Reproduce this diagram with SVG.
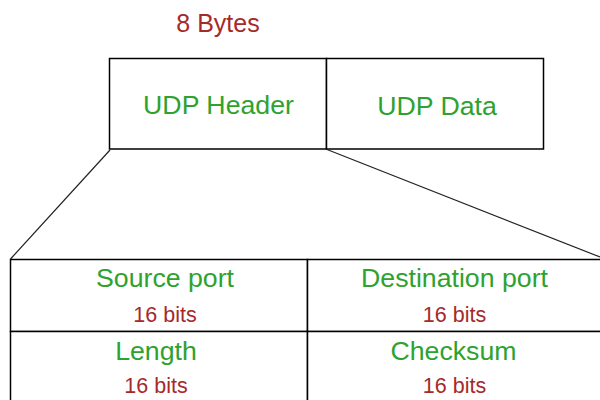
<svg xmlns="http://www.w3.org/2000/svg" width="600" height="400" viewBox="0 0 600 400">
<style>
.box{fill:#fff;stroke:#000;stroke-width:1.5}
.g{fill:#2ea22e;font-family:"Liberation Sans",Arial,sans-serif;font-size:26.7px;text-anchor:middle}
.r{fill:#a52a2a;font-family:"Liberation Sans",Arial,sans-serif;font-size:21.5px;text-anchor:middle}
.conn{stroke:#222;stroke-width:1.2;fill:none}
</style>
<rect width="600" height="400" fill="#fff"/>
<text id="size-label" class="r" x="218" y="32" style="font-size:25px">8 Bytes</text>
<g id="udp-header">
<rect class="box" x="109.5" y="58.5" width="217" height="90.5"/>
<text class="g" x="218.5" y="114">UDP Header</text>
</g>
<g id="udp-data">
<rect class="box" x="326.5" y="58.5" width="217" height="90.5"/>
<text class="g" x="437" y="115">UDP Data</text>
</g>
<g id="connectors">
<line class="conn" x1="110" y1="150" x2="10.5" y2="259"/>
<line class="conn" x1="327" y1="149.5" x2="600" y2="257"/>
</g>
<g id="source-port">
<rect class="box" x="10.5" y="259.5" width="297" height="72"/>
<text class="g" x="165" y="287">Source port</text>
<text class="r" x="165" y="322">16 bits</text>
</g>
<g id="destination-port">
<rect class="box" x="307.5" y="259.5" width="300" height="72"/>
<text class="g" x="454.5" y="287">Destination port</text>
<text class="r" x="454.5" y="322">16 bits</text>
</g>
<g id="length">
<rect class="box" x="10.5" y="331.5" width="297" height="80"/>
<text class="g" x="156" y="360">Length</text>
<text class="r" x="156" y="393">16 bits</text>
</g>
<g id="checksum">
<rect class="box" x="307.5" y="331.5" width="300" height="80"/>
<text class="g" x="453.5" y="360">Checksum</text>
<text class="r" x="454.5" y="393">16 bits</text>
</g>
</svg>
